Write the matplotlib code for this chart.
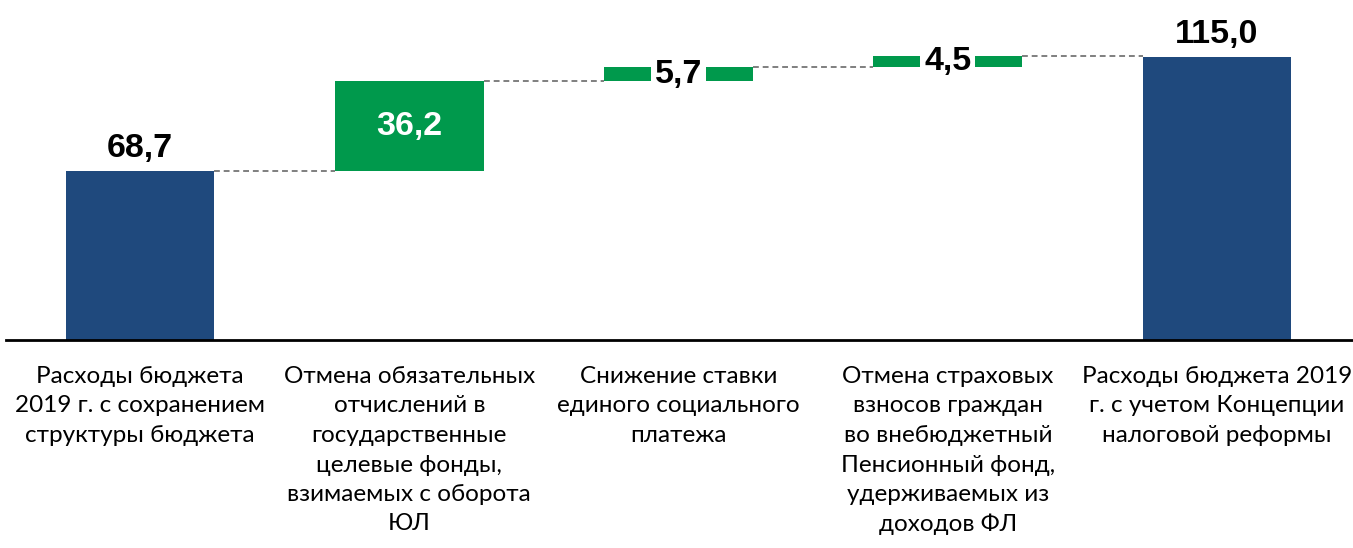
import matplotlib
matplotlib.use('Agg')
import matplotlib.pyplot as plt

categories = ['Расходы бюджета\n2019 г. с сохранением\nструктуры бюджета',
              'Отмена обязательных\nотчислений в\nгосударственные\nцелевые фонды,\nвзимаемых с оборота\nЮЛ',
              'Снижение ставки\nединого социального\nплатежа',
              'Отмена страховых\nвзносов граждан\nво внебюджетный\nПенсионный фонд,\nудерживаемых из\nдоходов ФЛ',
              'Расходы бюджета 2019\nг. с учетом Концепции\nналоговой реформы']
values = [68.7, 36.2, 5.7, 4.5, 115.0]
labels = ['68,7', '36,2', '5,7', '4,5', '115,0']
kinds = ['total', 'delta', 'delta', 'delta', 'total']

navy = '#1F497D'
green = '#00994C'

W, H = 1353, 548
fig = plt.figure(figsize=(W / 100, H / 100), dpi=100)
ax = fig.add_axes([6 / W, (H - 340) / H, 1 - 6 / W, 340 / H])

width = 0.553
scale = 2.465  # px per unit
ax.set_xlim(-0.4977, 4.505)
ax.set_ylim(0, 340 / scale)

bottoms = []
tops = []
running = 0
for i, (v, k) in enumerate(zip(values, kinds)):
    if k == 'total':
        b = 0
        running = v
    else:
        b = running
        running = running + v
    bottoms.append(b)
    tops.append(b + v)
    ax.bar(i, v, bottom=b, width=width, color=navy if k == 'total' else green, zorder=2)

# connectors
for i in range(len(values) - 1):
    ax.plot([i + width / 2, i + 1 - width / 2], [tops[i], tops[i]], color='#7F7F7F',
            linestyle=(0, (3, 2)), linewidth=1.4, zorder=1)

lab_size = 24.5
for i, (v, k) in enumerate(zip(values, kinds)):
    if k == 'total':
        ax.text(i, tops[i] + 2.5, labels[i], ha='center', va='bottom', fontsize=lab_size,
                fontweight='bold', family='Liberation Sans', color='black')
    elif v > 15:
        ax.text(i, bottoms[i] + v / 2, labels[i], ha='center', va='center', fontsize=lab_size,
                fontweight='bold', family='Liberation Sans', color='white', zorder=3)
    else:
        ax.text(i, bottoms[i] + v / 2, labels[i], ha='center', va='center', fontsize=lab_size,
                fontweight='bold', family='Liberation Sans', color='black', zorder=3,
                bbox=dict(boxstyle='square,pad=0.12', facecolor='white', edgecolor='none'))

for i, c in enumerate(categories):
    fig.text((6 + (i + 0.4977) * 269.25) / W, 1 - 366 / H, c, ha='center', va='top',
             fontsize=17.5, family='Lato', linespacing=1.5)

for s in ['top', 'right', 'left']:
    ax.spines[s].set_visible(False)
ax.spines['bottom'].set_linewidth(2)
ax.spines['bottom'].set_color('black')
ax.set_xticks([])
ax.set_yticks([])

fig.savefig('out.png', dpi=100)
